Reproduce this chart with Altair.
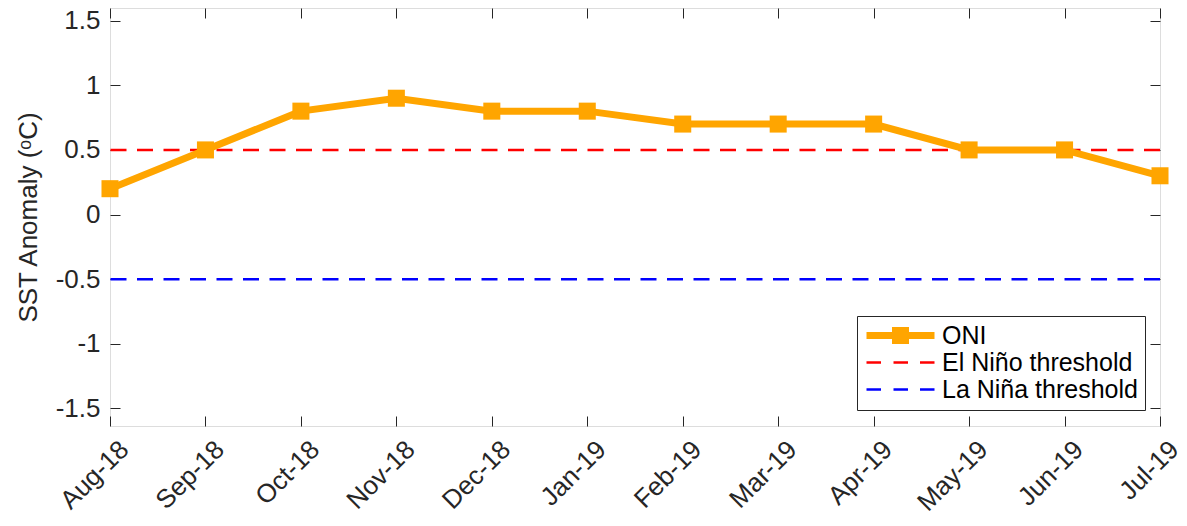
import altair as alt
import pandas as pd

months = ["Aug-18", "Sep-18", "Oct-18", "Nov-18", "Dec-18", "Jan-19",
          "Feb-19", "Mar-19", "Apr-19", "May-19", "Jun-19", "Jul-19"]
oni = [0.2, 0.5, 0.8, 0.9, 0.8, 0.8, 0.7, 0.7, 0.7, 0.5, 0.5, 0.3]
el_nino = [0.5]
la_nina = [-0.5]
series = ["ONI", "El Niño threshold", "La Niña threshold"]
series_colors = ["#FFA500", "#FF0000", "#0000FF"]
y_ticks = [-1.5, -1, -0.5, 0, 0.5, 1, 1.5]

df = pd.DataFrame({"month": months, "oni": oni})
df_el = pd.DataFrame({"v": el_nino})
df_la = pd.DataFrame({"v": la_nina})
df_leg = pd.DataFrame({"series": series})

FONT = "Liberation Sans"
AX = "#262626"
ydom = [-1.636, 1.598]

x_scale = alt.Scale(padding=0)
y_scale = alt.Scale(domain=ydom, nice=False, zero=False)

x_bottom = alt.Axis(orient="bottom", title=None, labelAngle=-45, labelAlign="right",
                    labelBaseline="middle", labelOffset=14, labelPadding=19,
                    offset=-10, tickSize=10, tickColor=AX, tickWidth=1, domain=False,
                    labelFont=FONT, labelFontSize=26, labelColor=AX, grid=False)
y_left = alt.Axis(orient="left", title="SST Anomaly (ᵒC)", values=y_ticks,
                  labelExpr="'' + datum.value", offset=-10, tickSize=10, tickColor=AX,
                  tickWidth=1, domain=False, labelPadding=10, labelFont=FONT,
                  labelFontSize=26, labelColor=AX, titleFont=FONT, titleFontSize=26,
                  titleFontWeight="normal", titleColor=AX, titlePadding=14, grid=False)
x_top = alt.Axis(orient="top", title=None, labels=False, offset=-10, tickSize=10,
                 tickColor=AX, tickWidth=1, domain=False, grid=False)
y_right = alt.Axis(orient="right", title=None, labels=False, values=y_ticks, offset=-10,
                   tickSize=10, tickColor=AX, tickWidth=1, domain=False, grid=False)

base = alt.Chart(df)

line = base.mark_line(color="#FFA500", strokeWidth=7).encode(
    x=alt.X("month:O", sort=months, scale=x_scale, axis=x_bottom),
    y=alt.Y("oni:Q", scale=y_scale, axis=y_left),
)
points = base.mark_point(shape="square", filled=True, size=290, color="#FFA500",
                         opacity=1).encode(
    x=alt.X("month:O", sort=months, scale=x_scale, axis=x_top),
    y=alt.Y("oni:Q", scale=y_scale, axis=y_right),
)
rule_el = alt.Chart(df_el).mark_rule(color="#FF0000", strokeWidth=2.5,
                                     strokeDash=[16, 10.5]).encode(
    y=alt.Y("v:Q", scale=y_scale, axis=None))
rule_la = alt.Chart(df_la).mark_rule(color="#0000FF", strokeWidth=2.5,
                                     strokeDash=[16, 10.5]).encode(
    y=alt.Y("v:Q", scale=y_scale, axis=None))

oni_sym = "M-1,-0.35H5.8V0.35H-1Z M1.55,-0.85H3.25V0.85H1.55Z"
dash_sym = "M-1,-0.12H0.45V0.12H-1Z M1.7,-0.12H3.15V0.12H1.7Z M4.35,-0.12H5.8V0.12H4.35Z"

legend_layer = alt.Chart(df_leg).mark_point(filled=True, size=400, opacity=1).encode(
    color=alt.Color("series:N", scale=alt.Scale(domain=series, range=series_colors),
                    legend=alt.Legend(orient="none", legendX=747, legendY=308, title=None,
                                      fillColor="white", strokeColor=AX, padding=7,
                                      cornerRadius=0, labelFont=FONT, labelFontSize=25,
                                      labelColor="black", symbolStrokeWidth=0,
                                      symbolSize=400, symbolOpacity=1, rowPadding=1,
                                      labelOffset=53, symbolOffset=0, labelLimit=400)),
    shape=alt.Shape("series:N", scale=alt.Scale(domain=series,
                                                range=[oni_sym, dash_sym, dash_sym]),
                    legend=None),
).transform_filter("false")

chart = alt.layer(rule_el, rule_la, line, points, legend_layer).resolve_axis(
    x="independent", y="independent"
).properties(
    width=1050, height=418,
    autosize=alt.AutoSizeParams(type="none"),
    padding={"left": 102, "top": 0, "right": 19, "bottom": 88},
).configure_view(stroke=AX, strokeWidth=1.3).configure(background="white")

chart.save("out.html", embed_options={"renderer": "svg", "actions": False})
